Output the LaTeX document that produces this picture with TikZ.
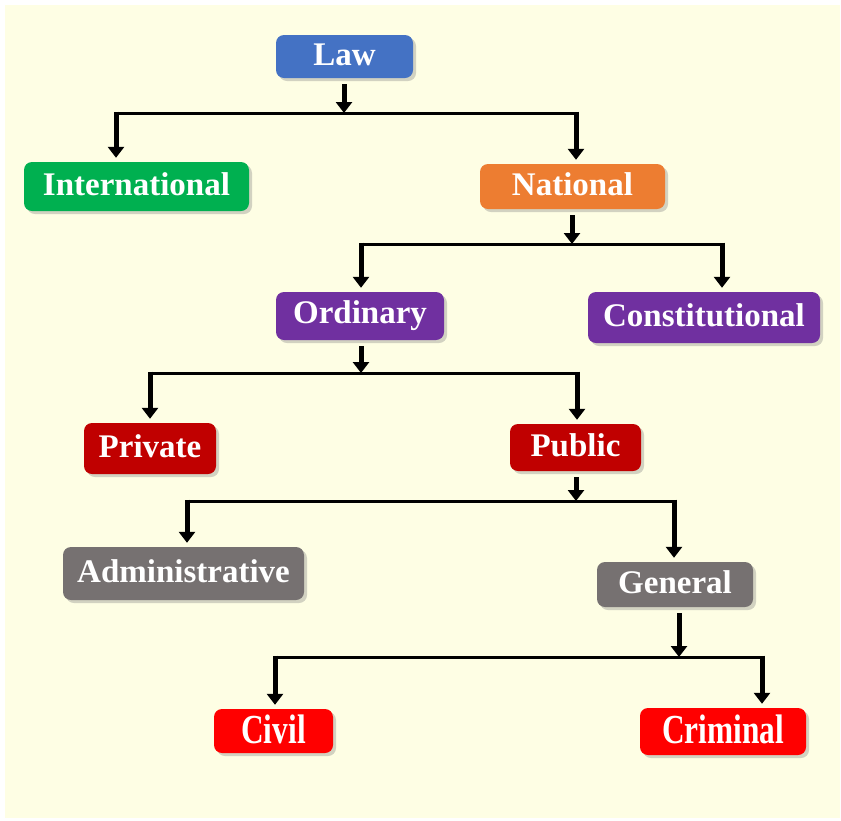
\documentclass[tikz,border=0pt]{standalone}
\usepackage{fontspec}
\setmainfont{Liberation Serif}
\usetikzlibrary{arrows.meta,shadows}
\definecolor{bgy}{HTML}{FEFEE4}
\definecolor{cLaw}{HTML}{4472C4}
\definecolor{cIntl}{HTML}{00B050}
\definecolor{cNat}{HTML}{ED7D31}
\definecolor{cPur}{HTML}{7030A0}
\definecolor{cDred}{HTML}{C00000}
\definecolor{cGray}{HTML}{767171}
\definecolor{cRed}{HTML}{FF0000}
\newcommand{\lift}[1]{\raisebox{4pt}{#1}}
\tikzset{
  box/.style={rounded corners=8pt, draw=none, text=white,
    font=\fontsize{33}{36}\selectfont\bfseries, inner sep=0pt,
    drop shadow={opacity=0.35, shadow xshift=3pt, shadow yshift=-3pt}},
  arr/.style={line width=5pt, draw=black,
    -{Triangle[width=16pt,length=11pt]}, shorten <=6pt},
  drop/.style={line width=5pt, draw=black,
    -{Triangle[width=16pt,length=11pt]}, shorten >=4pt},
  bar/.style={line width=3pt, draw=black, line cap=rect}
}
\begin{document}
\begin{tikzpicture}[x=1pt,y=-1pt]
\useasboundingbox (0,0) rectangle (841,820);
\fill[bgy] (5,5) rectangle (840,818);

\node[box, fill=cLaw,  minimum width=137pt, minimum height=43pt] (law)  at (344.5,56.5) {\lift{Law}};
\node[box, fill=cIntl, minimum width=225pt, minimum height=49pt] (intl) at (136.5,186.5) {\lift{International}};
\node[box, fill=cNat,  minimum width=185pt, minimum height=45pt] (nat)  at (572.5,186.5) {\lift{National}};
\node[box, fill=cPur,  minimum width=168pt, minimum height=48pt] (ord)  at (360,316) {\lift{Ordinary}};
\node[box, fill=cPur,  minimum width=232pt, minimum height=51pt] (con)  at (704,317.5) {\lift{Constitutional}};
\node[box, fill=cDred, minimum width=132pt, minimum height=51pt] (priv) at (150,448.5) {\lift{Private}};
\node[box, fill=cDred, minimum width=131pt, minimum height=47pt] (pub)  at (575.5,447.5) {\lift{Public}};
\node[box, fill=cGray, minimum width=241pt, minimum height=53pt] (adm)  at (183.5,573.5) {\lift{Administrative}};
\node[box, fill=cGray, minimum width=156pt, minimum height=45pt] (gen)  at (675,584.5) {\lift{General}};
\node[box, fill=cRed,  minimum width=119pt, minimum height=44pt] (civ)  at (273.5,731) {\lift{\scalebox{0.95}[1.25]{Civil}}};
\node[box, fill=cRed,  minimum width=166pt, minimum height=47pt] (crim) at (723,731.5) {\lift{\scalebox{0.95}[1.25]{Criminal}}};

% Law
\coordinate (a1) at (116,113); \coordinate (b1) at (576,113); \coordinate (s1) at (344,113);
\draw[arr] (s1 |- law.south) -- (s1);
\draw[bar] (a1) -- (b1);
\draw[drop] ([yshift=1.5pt]a1) -- (a1 |- intl.north);
\draw[drop] ([yshift=1.5pt]b1) -- (b1 |- nat.north);
% National
\coordinate (a2) at (361,244); \coordinate (b2) at (722,244); \coordinate (s2) at (572,244);
\draw[arr] (s2 |- nat.south) -- (s2);
\draw[bar] (a2) -- (b2);
\draw[drop] ([yshift=1.5pt]a2) -- (a2 |- ord.north);
\draw[drop] ([yshift=1.5pt]b2) -- (b2 |- con.north);
% Ordinary
\coordinate (a3) at (150,373); \coordinate (b3) at (577,373); \coordinate (s3) at (361,373);
\draw[arr] (s3 |- ord.south) -- (s3);
\draw[bar] (a3) -- (b3);
\draw[drop] ([yshift=1.5pt]a3) -- (a3 |- priv.north);
\draw[drop] ([yshift=1.5pt]b3) -- (b3 |- pub.north);
% Public
\coordinate (a4) at (187,501); \coordinate (b4) at (674,501); \coordinate (s4) at (576,501);
\draw[arr] (s4 |- pub.south) -- (s4);
\draw[bar] (a4) -- (b4);
\draw[drop] ([yshift=1.5pt]a4) -- (a4 |- adm.north);
\draw[drop] ([yshift=1.5pt]b4) -- (b4 |- gen.north);
% General
\coordinate (a5) at (275,657); \coordinate (b5) at (762,657); \coordinate (s5) at (679,657);
\draw[arr] (s5 |- gen.south) -- (s5);
\draw[bar] (a5) -- (b5);
\draw[drop] ([yshift=1.5pt]a5) -- (a5 |- civ.north);
\draw[drop] ([yshift=1.5pt]b5) -- (b5 |- crim.north);
\end{tikzpicture}
\end{document}
